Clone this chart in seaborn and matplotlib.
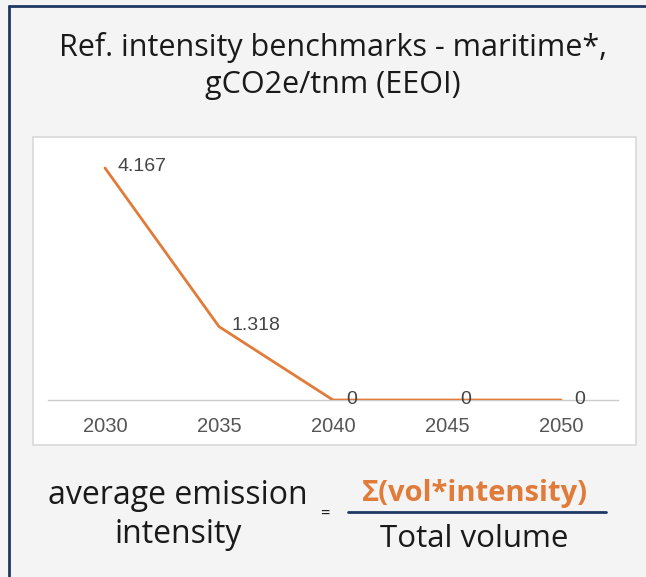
import pandas as pd
import seaborn as sns
import matplotlib.pyplot as plt
from matplotlib.patches import Rectangle
from matplotlib.lines import Line2D

# chart values
years = [2030, 2035, 2040, 2045, 2050]
intensity = [4.167, 1.318, 0, 0, 0]
value_labels = ['4.167', '1.318', '0', '0', '0']

title_lines = 'Ref. intensity benchmarks - maritime*,\ngCO2e/tnm (EEOI)'
lhs_text = 'average emission\nintensity'
numerator_text = 'Σ(vol*intensity)'
denominator_text = 'Total volume'

ORANGE = '#e07b39'
NAVY = '#1f3864'
BG = '#f4f4f4'

df = pd.DataFrame({'year': years, 'intensity': intensity})

sns.set_theme(style='white')
plt.rcParams['font.family'] = ['Open Sans', 'DejaVu Sans']

W, H = 646, 577
fig = plt.figure(figsize=(W / 100, H / 100), dpi=100)
fig.patch.set_facecolor(BG)


def fx(px):
    return px / W


def fy(py):
    return 1 - py / H


# navy frame (top and left)
fig.add_artist(Line2D([fx(9), 1], [fy(6), fy(6)], color=NAVY, lw=2, transform=fig.transFigure))
fig.add_artist(Line2D([fx(9), fx(9)], [fy(6), 0], color=NAVY, lw=2, transform=fig.transFigure))

# white chart panel
panel = Rectangle((fx(33), fy(445)), fx(636) - fx(33), fy(137) - fy(445),
                  transform=fig.transFigure, facecolor='white',
                  edgecolor='#d9d9d9', lw=1.2, zorder=-5)
fig.add_artist(panel)

# title
fig.text(fx(333), fy(66), title_lines, ha='center', va='center', fontsize=22,
         color='#1a1a1a', linespacing=1.3)

# line chart
ax = fig.add_axes([fx(48), fy(400), fx(618) - fx(48), fy(145) - fy(400)])
ax.set_zorder(5)
ax.set_facecolor('white')
sns.lineplot(data=df, x='year', y='intensity', ax=ax, color=ORANGE, lw=2)
ax.set_xlim(2027.5, 2052.5)
ax.set_ylim(0, 4.58)
ax.set_xticks(years)
ax.set_xticklabels([str(y) for y in years], fontfamily='Liberation Sans',
                   fontsize=14.5, color='#555555')
ax.tick_params(axis='x', length=0, pad=12)
ax.set_yticks([])
ax.set_xlabel('')
ax.set_ylabel('')
for s in ['top', 'right', 'left']:
    ax.spines[s].set_visible(False)
ax.spines['bottom'].set_color('#cccccc')
ax.spines['bottom'].set_linewidth(1)
ax.spines['bottom'].set_zorder(0)

for x, y, lab in zip(years, intensity, value_labels):
    ax.annotate(lab, (x, y), xytext=(13, 1), textcoords='offset pixels',
                ha='left', va='center', fontfamily='Liberation Sans',
                fontsize=14, color='#444444', annotation_clip=False)

# formula
fig.text(fx(178), fy(515), lhs_text, ha='center', va='center', fontsize=23,
         color='#1a1a1a', linespacing=1.27)
fig.text(fx(325), fy(515), '=', ha='center', va='center', fontsize=12, color='#1a1a1a')
fig.text(fx(475), fy(494), numerator_text, ha='center', va='center', fontsize=21,
         fontweight='bold', color=ORANGE)
fig.add_artist(Line2D([fx(348), fx(606)], [fy(512), fy(512)], color=NAVY, lw=2,
                      transform=fig.transFigure))
fig.text(fx(474), fy(539), denominator_text, ha='center', va='center', fontsize=22.5,
         color='#1a1a1a')

plt.savefig('out.png', dpi=100, facecolor=BG)
plt.close()
